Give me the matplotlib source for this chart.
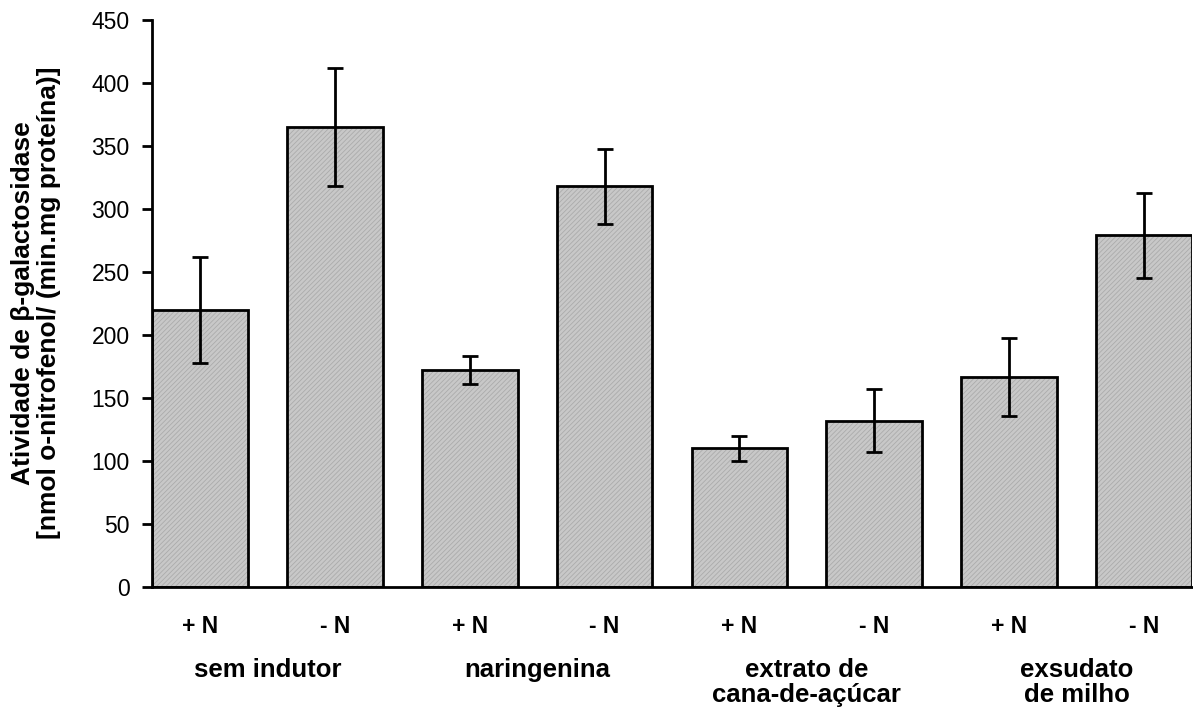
import matplotlib.pyplot as plt
import numpy as np

plt.rcParams['font.family'] = ['Liberation Sans', 'DejaVu Sans']
plt.rcParams['hatch.linewidth'] = 0.6

# dados
n_labels = ['+ N', '- N', '+ N', '- N', '+ N', '- N', '+ N', '- N']
groups = ['sem indutor', 'naringenina', 'extrato de\ncana-de-açúcar', 'exsudato\nde milho']
atividade = [220, 365, 172, 318, 110, 132, 167, 279]
erro = [42, 47, 11, 30, 10, 25, 31, 34]

fig = plt.figure(figsize=(11.93, 7.10), dpi=100)
ax = fig.add_axes([152 / 1193, 1 - 587 / 710, 1040 / 1193, 567 / 710])

x = np.arange(len(atividade))
w = 0.71

# preenchimento com textura fina
ax.bar(x, atividade, width=w, color='#c8c8c8', edgecolor='#ababab',
       linewidth=0, hatch='///////', zorder=2)
# contorno preto
ax.bar(x, atividade, width=w, fill=False, edgecolor='black', linewidth=2, zorder=3)
ax.errorbar(x, atividade, yerr=erro, fmt='none', ecolor='black',
            elinewidth=2, capsize=6, capthick=2, zorder=4)

ax.set_xlim(-w / 2, len(atividade) - 1 + w / 2)
ax.set_ylim(0, 450)
ax.set_yticks(np.arange(0, 451, 50))
ax.set_xticks(x)
ax.set_xticklabels(n_labels, fontsize=16.5, fontweight='bold')
ax.tick_params(axis='x', length=0, pad=20)
ax.tick_params(axis='y', labelsize=16.5, direction='out', length=7, width=2, pad=9)

for s in ['top', 'right']:
    ax.spines[s].set_visible(False)
ax.spines['left'].set_linewidth(2)
ax.spines['bottom'].set_linewidth(2)

for i, g in enumerate(groups):
    ax.text(2 * i + 0.5, -56, g, ha='center', va='top', fontsize=18.5,
            fontweight='bold', linespacing=1.1, clip_on=False)

fig.text(36 / 1193, 1 - 303 / 710,
         'Atividade de β-galactosidase\n[nmol o-nitrofenol/ (min.mg proteína)]',
         rotation=90, ha='center', va='center', multialignment='center',
         fontsize=19, fontweight='bold', linespacing=1.12)

fig.savefig('out.png', dpi=100)
